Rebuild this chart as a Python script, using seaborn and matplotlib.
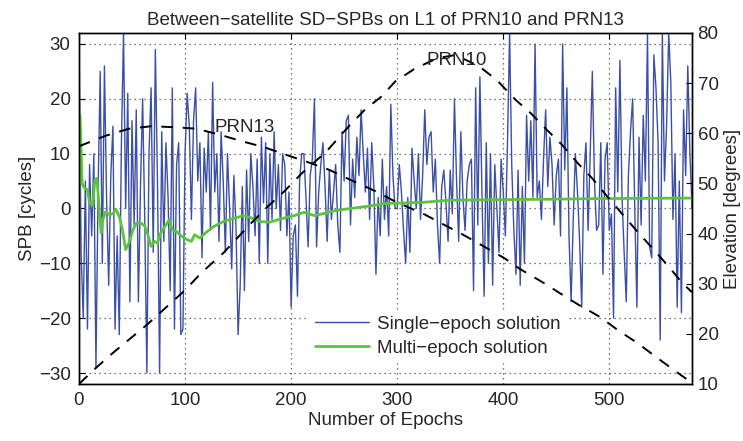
import numpy as np
import pandas as pd
import matplotlib
matplotlib.use("Agg")
import matplotlib.pyplot as plt
import seaborn as sns

# ---------------- data ----------------
single_epochs = list(range(0, 580, 2))
single_spb = [
    31, -8, -20, 5, -22, 8, -5, 10, -29, 3, 25, -10, 26, 2, -14, 6, 15, -22, -5, -23,
    12, 32, 0, 21, -17, 16, -3, 18, -17, 4, 20, -2, -30, 10, 22, -8, 29, 5, -30, 14,
    -6, 12, 2, -15, 22, -22, 8, 12, -23, -22,
    10, 21, 15, -2, 16, 22, 5, 12, -9, 11, 3, 14, -4, 23, 3, 10, -6, 14, 5, -8,
    10, 0, -11, 6, -3, -23, -14, 4, -15, 7, -6, 10, 4, -5, 9, -10, 13, 1, 12, -10,
    10, -2, 14, 0, 8, -4, 10, 8, -5, 3,
    -18, -5, -3, -16, 5, 10, 10, 2, -7, 6, 9, 20, -7, 3, 8, 12, 4, -6, 7, -2,
    3, 8, -3, -8, 14, 5, 16, 17, -3, 9, 2, 13, 6, 18, 10, 3, 11, -2, 12, 4,
    -12, 2, -5, 9, -2, 4, -5, 19, 6, 0,
    0, 8, 3, -4, -10, 2, -8, 11, 5, 0, 10, -2, 6, 18, 8, 13, 14, 3, 9, -3,
    -10, 4, 7, 1, -6, 7, -1, 20, 5, -6, 14, 2, -4, 5, 8, 9, -15, 22, -3, 24,
    2, -16, 12, -10, 10, -14, 8, 0, -8, 9,
    3, -5, 12, 32, 8, -4, -12, 7, -14, 4, -10, 17, 5, 16, 2, 30, 2, 5, -2, 9,
    18, 4, 13, 8, -3, 6, 9, -5, 30, 7, 22, -5, -17, -2, 10, 3, -6, -18, 6, 12,
    -4, 10, 25, 5, -4, -3, 12, -12, 9, 12,
    -4, -1, -20, 22, 3, 27, 2, -8, -17, 6, 14, 20, 0, -18, 13, -3, 17, 5, 32, -7,
    -9, 28, 22, 12, -24, 32, 5, 15, 32, 23, -2, 10, -18, 5, -19, 18, 6, 26, 10, 0,
]

multi_epochs = [0, 1, 3, 5, 8, 10, 13, 15, 17, 19, 21, 22, 25, 29, 32, 35, 38, 41, 44, 47,
                51, 54, 58, 62, 65, 68, 71, 74, 77, 81, 85, 88, 92, 97, 102, 106, 109, 114, 119, 127,
                136, 146, 155, 161, 171, 180, 190, 203, 212, 222, 231, 241, 256, 272, 288, 323, 349, 392, 450, 490,
                578]
multi_spb = [-2.7, 17, 4.5, 3.8, 3.4, 1.0, 0.6, 5.2, 5.5, 0, -4.5, -2.4, -0.6, -1.2, -0.9, -0.2, -1.5, -3.9, -7.5, -6.3,
             -3.9, -2.7, -2.6, -3.2, -4.8, -6.9, -6.0, -6.3, -4.5, -3.3, -2.1, -3.9, -4.2, -5.1, -5.7, -6.0, -4.8, -5.4, -4.5, -3.3,
             -2.4, -1.8, -1.3, -1.6, -2.4, -2.5, -1.9, -1.3, -0.7, -1.3, -0.9, -0.4, 0, 0.4, 0.9, 1.1, 1.5, 1.6, 1.7, 1.8,
             1.9]

prn10_epochs = [0, 17, 32, 64, 100, 115, 136, 162, 178, 193, 210, 233, 254, 270, 285, 298, 316, 338, 355, 377,
                394, 412, 426, 441, 455, 470, 484, 498, 526, 541, 556, 569, 578]
prn10_elev = [10, 13.4, 16.2, 21.8, 28.7, 32.1, 36.1, 42.0, 45.4, 48.3, 52, 56.3, 61.3, 64.8, 67.3, 70.3, 72.8, 75, 75.6, 73.4,
              70.6, 66.6, 64, 60.7, 57.8, 54.1, 51, 47.4, 40.5, 37, 33.4, 30.1, 28.3]

prn13_epochs = [0, 25, 47, 68, 91, 111, 133, 152, 175, 191, 215, 236, 255, 279, 298, 326, 342, 361, 382, 401,
                416, 437, 455, 471, 491, 509, 527, 544, 562, 578]
prn13_elev = [57.4, 59.5, 60.9, 61.4, 61.2, 60.9, 59.7, 58.5, 57.2, 56, 54.3, 52.7, 50.8, 48.5, 46.4, 43.8, 42, 39.9, 37.4, 35.1,
              32.9, 30.3, 27.9, 25.8, 23.4, 20.6, 18.1, 15.4, 12.6, 10.2]

x_ticks = [0, 100, 200, 300, 400, 500]
spb_ticks = [-30, -20, -10, 0, 10, 20, 30]
elev_ticks = [10, 20, 30, 40, 50, 60, 70, 80]

# ---------------- style ----------------
sns.set_theme(style="white")
plt.rcParams["font.family"] = ["Liberation Sans", "DejaVu Sans"]
plt.rcParams["axes.unicode_minus"] = True
FS = 13.5

fig = plt.figure(figsize=(7.43, 4.41), dpi=100)
ax = fig.add_axes([0.1063, 0.1293, 0.8251, 0.7959])
ax2 = ax.twinx()

df_single = pd.DataFrame({"epoch": single_epochs, "spb": single_spb})
df_multi = pd.DataFrame({"epoch": multi_epochs, "spb": multi_spb})
df_p10 = pd.DataFrame({"epoch": prn10_epochs, "elev": prn10_elev})
df_p13 = pd.DataFrame({"epoch": prn13_epochs, "elev": prn13_elev})

sns.lineplot(data=df_single, x="epoch", y="spb", ax=ax, color="#3b4fa6", linewidth=1.0,
             estimator=None, sort=False, label="Single\u2212epoch solution")
sns.lineplot(data=df_multi, x="epoch", y="spb", ax=ax, color="#5cc43c", linewidth=2.0,
             estimator=None, sort=False, label="Multi\u2212epoch solution")

sns.lineplot(data=df_p10, x="epoch", y="elev", ax=ax2, color="black", linewidth=1.4,
             estimator=None, sort=False, linestyle=(0, (6, 5)))
sns.lineplot(data=df_p13, x="epoch", y="elev", ax=ax2, color="black", linewidth=1.4,
             estimator=None, sort=False, linestyle=(0, (6, 5)))

ax.set_xlim(0, 578)
ax.set_ylim(-32, 32)
ax2.set_ylim(10, 80)
ax.set_xticks(x_ticks)
ax.set_yticks(spb_ticks)
ax2.set_yticks(elev_ticks)
ax.set_xticklabels([str(v) for v in x_ticks], fontsize=FS)
ax.set_yticklabels([str(v).replace("-", "\u2212") for v in spb_ticks], fontsize=FS)
ax2.set_yticklabels([str(v) for v in elev_ticks], fontsize=FS)

ax.grid(True, color="0.3", linestyle=(0, (1, 3)), linewidth=0.9)
ax2.grid(False)

for a in (ax, ax2):
    for s in a.spines.values():
        s.set_color("black")
        s.set_linewidth(1.0)
ax.tick_params(axis="both", direction="in", length=4, width=0.8, color="black", top=True,
               labelsize=FS, pad=6)
ax2.tick_params(axis="y", direction="in", length=4, width=0.8, color="black", labelsize=FS, pad=4)

ax.set_xlabel("Number of Epochs", fontsize=FS, labelpad=2)
ax.set_ylabel("SPB [cycles]", fontsize=FS, labelpad=2)
ax2.set_ylabel("Elevation [degrees]", fontsize=FS, labelpad=4)
ax.set_title("Between\u2212satellite SD\u2212SPBs on L1 of PRN10 and PRN13", fontsize=FS, pad=6)

ax2.text(356, 73.6, "PRN10", fontsize=FS, ha="center", va="baseline")
ax2.text(156, 60.3, "PRN13", fontsize=FS, ha="center", va="baseline")

handles, labels = ax.get_legend_handles_labels()
ax.get_legend().remove()
leg = ax2.legend(handles, labels, loc="lower left", bbox_to_anchor=(0.36, 0.035),
                 fontsize=FS, frameon=True, fancybox=False, framealpha=1,
                 edgecolor="white", facecolor="white", handlelength=2.9,
                 handletextpad=0.4, borderpad=0.3, labelspacing=0.35)

fig.savefig("out.png", dpi=100)
